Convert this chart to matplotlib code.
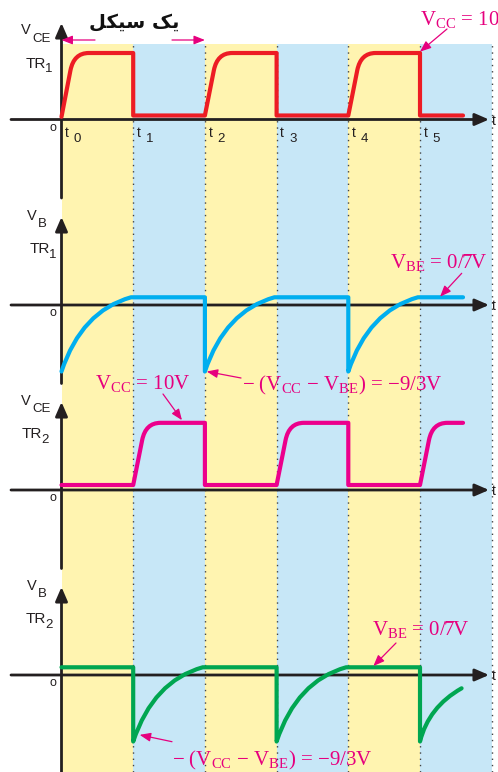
import matplotlib

matplotlib.use("Agg")
import matplotlib.pyplot as plt
from matplotlib.patches import PathPatch
from matplotlib.path import Path

W, H = 498, 772

# time axis: t0..t5 and the right edge of the last stripe (cycle units)
STRIPE_EDGES = [0, 1, 2, 3, 4, 5, 6]
STRIPE_COLORS = ["#fff4b0", "#c7e7f7"]
TICK_NAMES = ["0", "1", "2", "3", "4", "5"]

# waveforms: time (cycle units), value (volts, drawing scale)
# codes: M = move, L = line, Q = quadratic curve (control, end)
TR1_VCE_T = [0, 0.125, 0.173, 0.38, 1, 1, 2, 2.125, 2.173, 2.38, 3, 3, 4, 4.125, 4.173, 4.38, 5, 5, 5.6]
TR1_VCE_V = [0.4, 7.4, 10, 10, 10, 0.6, 0.6, 7.4, 10, 10, 10, 0.6, 0.6, 7.4, 10, 10, 10, 0.6, 0.6]
TR1_VCE_CODES = "MLQQLLLLQQLLLLQQLLL"

TR1_VB_T = [0, 0.28, 0.97, 2, 2, 2.28, 2.97, 4, 4, 4.28, 4.97, 5.6]
TR1_VB_V = [-10, -0.9, 1.16, 1.16, -10, -0.9, 1.16, 1.16, -10, -0.9, 1.16, 1.16]
TR1_VB_CODES = "MQQLLQQLLQQL"

TR2_VCE_T = [0, 1, 1.125, 1.173, 1.38, 2, 2, 3, 3.125, 3.173, 3.38, 4, 4, 5, 5.125, 5.173, 5.38, 5.6]
TR2_VCE_V = [0.75, 0.75, 7.5, 10.1, 10.1, 10.1, 0.75, 0.75, 7.5, 10.1, 10.1, 10.1, 0.75, 0.75, 7.5, 10.1, 10.1, 10.1]
TR2_VCE_CODES = "MLLQQLLLLQQLLLLQQL"

TR2_VB_T = [0, 1, 1, 1.28, 1.97, 3, 3, 3.28, 3.97, 5, 5, 5.12, 5.58]
TR2_VB_V = [1.16, 1.16, -10, -0.9, 1.16, 1.16, -10, -0.9, 1.16, 1.16, -10, -4.8, -2.0]
TR2_VB_CODES = "MLLQQLLQQLLQQ"

WAVES = [
    (TR1_VCE_T, TR1_VCE_V, TR1_VCE_CODES, "#ed1c24"),
    (TR1_VB_T, TR1_VB_V, TR1_VB_CODES, "#00aeef"),
    (TR2_VCE_T, TR2_VCE_V, TR2_VCE_CODES, "#ec008c"),
    (TR2_VB_T, TR2_VB_V, TR2_VB_CODES, "#00a651"),
]
PANEL_QTY = [("V", "CE"), ("V", "B"), ("V", "CE"), ("V", "B")]
PANEL_TR = [("TR", "1"), ("TR", "1"), ("TR", "2"), ("TR", "2")]

CYCLE_LABEL = "\uFEDE\uFB91\uFBFF\uFEB3 \uFB8F\uFBFE"  # "یک سیکل" in presentation forms
VCC_LABEL = r"$\mathrm{V}_{\mathrm{CC}}$ = 10V"
VBE_LABEL = r"$\mathrm{V}_{\mathrm{BE}}$ = 0/7V"
NEG_LABEL = r"− ($\mathrm{V}_{\mathrm{CC}}$ − $\mathrm{V}_{\mathrm{BE}}$) = −9/3V"

# layout (pixels)
T0_PX, PX_PER_T, PX_PER_V = 61.5, 71.7, 6.65
AXIS_Y = [119.5, 305, 490, 675]
BG_TOP = 44
INK = "#231f20"
PINK = "#e6007e"

plt.rcParams["mathtext.fontset"] = "custom"
plt.rcParams["mathtext.rm"] = "Liberation Serif"
plt.rcParams["mathtext.sf"] = "Liberation Sans"

CODE_MAP = {"M": Path.MOVETO, "L": Path.LINETO, "Q": Path.CURVE3}


def ftext(fig, x, y, s, **kw):
    fig.text(x / W, 1 - y / H, s, **kw)


def pink_arrow(ax, tip, tail_px):
    ax.annotate(
        "",
        xy=tip,
        xytext=(tail_px[0], H - tail_px[1]),
        textcoords="figure pixels",
        annotation_clip=False,
        arrowprops=dict(arrowstyle="-|>,head_length=0.55,head_width=0.22", mutation_scale=12,
                        color=PINK, lw=0.9, shrinkA=0, shrinkB=0, clip_on=False),
    )


def black_arrow(ax, start, end):
    ax.annotate(
        "",
        xy=end,
        xytext=start,
        annotation_clip=False,
        arrowprops=dict(arrowstyle="-|>,head_length=0.6,head_width=0.26", mutation_scale=14,
                        color=INK, lw=2.0, shrinkA=0, shrinkB=0, clip_on=False),
    )


def main() -> None:
    fig = plt.figure(figsize=(W / 100, H / 100), dpi=100)
    xlim = (-T0_PX / PX_PER_T, (W - T0_PX) / PX_PER_T)

    bg = fig.add_axes([0, 0, 1, (H - BG_TOP) / H])
    bg.set_xlim(*xlim)
    bg.set_ylim(0, 1)
    bg.axis("off")
    for i in range(len(STRIPE_EDGES) - 1):
        bg.axvspan(STRIPE_EDGES[i], STRIPE_EDGES[i + 1], color=STRIPE_COLORS[i % 2], lw=0)
    for edge in STRIPE_EDGES[1:]:
        bg.axvline(edge, color="#444444", lw=1.0, ls=(0, (1, 3.5)))

    axes = []
    for k, ay in enumerate(AXIS_Y):
        ax = fig.add_axes([0, 1 - (ay + 89) / H, 1, 185 / H])
        ax.set_xlim(*xlim)
        ax.set_ylim(-89 / PX_PER_V, 96 / PX_PER_V)
        ax.axis("off")
        ax.patch.set_visible(False)
        axes.append(ax)

        tip = 96.5 if k == 0 else 88
        bottom = 97.5 if k == 3 else 78.5
        black_arrow(ax, (0, -bottom / PX_PER_V), (0, tip / PX_PER_V))
        black_arrow(ax, ((11 - T0_PX) / PX_PER_T, 0), ((489 - T0_PX) / PX_PER_T, 0))

        t_vals, v_vals, codes, color = WAVES[k]
        path = Path(list(zip(t_vals, v_vals)), [CODE_MAP[c] for c in codes])
        ax.add_patch(PathPatch(path, fill=False, edgecolor=color, lw=3.0,
                               capstyle="round", joinstyle="round", clip_on=False, zorder=3))

        sans = dict(family="Liberation Sans", color=INK, va="baseline")
        vx = 21 if k % 2 == 0 else 27
        ftext(fig, vx, ay - 85, PANEL_QTY[k][0], fontsize=10.5, **sans)
        ftext(fig, vx + 11, ay - 78, PANEL_QTY[k][1], fontsize=9.5, **sans)
        tx = [26, 30, 22, 26][k]
        ftext(fig, tx, ay - 52, PANEL_TR[k][0], fontsize=11, **sans)
        ftext(fig, tx + 19, ay - 47, PANEL_TR[k][1], fontsize=9.5, **sans)
        ftext(fig, 52.5, ay + 8.5, "o", fontsize=9, ha="center", va="center",
              family="Liberation Sans", color=INK)
        ftext(fig, 492, ay + 5.5, "t", fontsize=10, **sans)

    # t0..t5 markers under the first panel
    for edge, name in zip(STRIPE_EDGES, TICK_NAMES):
        x = T0_PX + edge * PX_PER_T
        ftext(fig, x + 3.5, 137, "t", fontsize=10, family="Liberation Sans", color=INK, va="baseline")
        ftext(fig, x + 12.5, 142.5, name, fontsize=9.5, family="Liberation Sans", color=INK, va="baseline")

    # one-cycle marker
    top = axes[0]
    cy = (AXIS_Y[0] - 40) / PX_PER_V
    pink_arrow(top, (0, cy), (95, 40))
    pink_arrow(top, (2, cy), (172, 40))
    ftext(fig, 134, 22, CYCLE_LABEL, fontsize=14, fontweight="bold", family=["DejaVu Sans"],
          color="#111111", ha="center", va="center")

    serif = dict(family="Liberation Serif", color=PINK, fontsize=15, va="baseline")
    ftext(fig, 420, 25, VCC_LABEL, **serif)
    pink_arrow(axes[0], (5.0, 10.2), (447, 29))

    ftext(fig, 390, 268, VBE_LABEL, **serif)
    pink_arrow(axes[1], (5.28, 1.25), (461.7, 273.3))

    ftext(fig, 95, 389, VCC_LABEL, **serif)
    pink_arrow(axes[2], (1.68, 10.5), (163, 394))

    ftext(fig, 242, 390, NEG_LABEL, **serif)
    pink_arrow(axes[1], (2.025, -10.0), (241, 378))

    ftext(fig, 372, 635, VBE_LABEL, **serif)
    pink_arrow(axes[3], (4.35, 1.35), (396, 643))

    ftext(fig, 172, 765, NEG_LABEL, **serif)
    pink_arrow(axes[3], (1.09, -9.0), (172, 741.7))

    fig.savefig("out.png", dpi=100)
    plt.close(fig)


if __name__ == "__main__":
    main()
